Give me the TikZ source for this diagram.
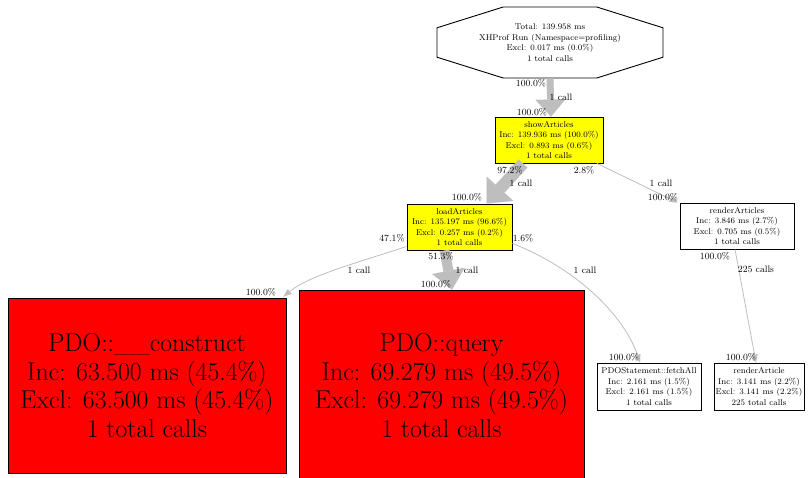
\documentclass[tikz,border=0pt]{standalone}
\usepackage{fontspec}
\usetikzlibrary{arrows.meta}
\definecolor{edgegray}{RGB}{190,190,190}
\definecolor{fnyellow}{RGB}{255,255,0}
\definecolor{fnred}{RGB}{255,0,0}
\begin{document}
\begin{tikzpicture}[x=1pt,y=-1pt,
  fnbox/.style={draw=black,line width=0.9pt,inner sep=0pt,align=center,font=\rmfamily\fontsize{8.4}{10.6}\selectfont},
  bigbox/.style={draw=black,line width=0.9pt,fill=fnred,inner sep=0pt,align=center,font=\rmfamily\fontsize{25.8}{28.7}\selectfont},
  elabel/.style={inner sep=0pt,font=\rmfamily\fontsize{9.4}{11}\selectfont},
  thickedge/.style={draw=edgegray,line width=#1},
  thinedge/.style={draw=edgegray,line width=0.8pt,-{Triangle[width=6pt,length=8pt,line width=0.1pt]}},
]
\useasboundingbox (0,0) rectangle (808,477);
\fill[white] (0,0) rectangle (808,477);

% root octagon
\draw[black,line width=0.9pt] (663,27.8) -- (663,57.2) -- (596.8,78) -- (503.2,78) -- (437,57.2) -- (437,27.8) -- (503.2,7) -- (596.8,7) -- cycle;
\node[fnbox,draw=none,minimum width=226pt,minimum height=71pt] (oct) at (550,42.5)
  {Total: 139.958 ms\\XHProf Run (Namespace=profiling)\\Excl: 0.017 ms (0.0\%)\\1 total calls};

% function nodes
\node[fnbox,fill=fnyellow,minimum width=108pt,minimum height=46pt] (show) at (549,140)
  {showArticles\\Inc: 139.936 ms (100.0\%)\\Excl: 0.893 ms (0.6\%)\\1 total calls};
\node[fnbox,fill=fnyellow,minimum width=105pt,minimum height=46pt] (load) at (459.5,227)
  {loadArticles\\Inc: 135.197 ms (96.6\%)\\Excl: 0.257 ms (0.2\%)\\1 total calls};
\node[fnbox,fill=white,minimum width=114pt,minimum height=46pt] (ra) at (737,226)
  {renderArticles\\Inc: 3.846 ms (2.7\%)\\Excl: 0.705 ms (0.5\%)\\1 total calls};
\node[fnbox,fill=white,minimum width=104pt,minimum height=47pt] (fa) at (649,386.5)
  {PDOStatement::fetchAll\\Inc: 2.161 ms (1.5\%)\\Excl: 2.161 ms (1.5\%)\\1 total calls};
\node[fnbox,fill=white,minimum width=90pt,minimum height=47pt] (rA) at (759,386.5)
  {renderArticle\\Inc: 3.141 ms (2.2\%)\\Excl: 3.141 ms (2.2\%)\\225 total calls};
\node[bigbox,minimum width=278pt,minimum height=175pt] (con) at (147,385.5)
  {PDO::\_\_construct\\Inc: 63.500 ms (45.4\%)\\Excl: 63.500 ms (45.4\%)\\1 total calls};
\node[bigbox,minimum width=285pt,minimum height=191pt] (qry) at (441.5,385.5)
  {PDO::query\\Inc: 69.279 ms (49.5\%)\\Excl: 69.279 ms (49.5\%)\\1 total calls};

% thick edges
\draw[thickedge=7pt,-{Triangle[width=30pt,length=17pt,line width=0.1pt]}] (oct.south) -- ([xshift=2pt]show.north);
\draw[thickedge=12pt,-{Triangle[width=36pt,length=20pt,line width=0.1pt]}] ([xshift=-26pt]show.south) -- ([xshift=27pt]load.north);
\draw[thickedge=10pt,-{Triangle[width=33pt,length=19pt,line width=0.1pt]}] ([xshift=-15pt]load.south) -- ([xshift=10.5pt]qry.north);

% thin edges
\draw[thinedge] ([xshift=48pt]show.south) -- ([xshift=-2pt]ra.north west);
\draw[thinedge] ([yshift=4pt]load.south west) .. controls (360,262) and (310,275) .. ([xshift=-3pt,yshift=1pt]con.north east);
\draw[thinedge] ([yshift=7pt]load.south east) .. controls (580,270) and (625,318) .. ([xshift=-9pt]fa.north);
\draw[thinedge] ([xshift=-2pt]ra.south) -- ([xshift=-3pt]rA.north);

% edge labels
\node[elabel] (l1t) at (531,83) {100.0\%};
\node[elabel] (l1m) at (561,97) {1 call};
\node[elabel] (l1h) at (532,112) {100.0\%};

\node[elabel] (l2t) at (510,170) {97.2\%};
\node[elabel] (l2m) at (521,183) {1 call};
\node[elabel] (l2h) at (467,197) {100.0\%};

\node[elabel] (l3t) at (584,170) {2.8\%};
\node[elabel] (l3m) at (661,183) {1 call};
\node[elabel] (l3h) at (663,197) {100.0\%};

\node[elabel] (l4t) at (392,238) {47.1\%};
\node[elabel] (l4m) at (359,270) {1 call};
\node[elabel] (l4h) at (261,292) {100.0\%};

\node[elabel] (l5t) at (441,256) {51.3\%};
\node[elabel] (l5m) at (467,270) {1 call};
\node[elabel] (l5h) at (436,284) {100.0\%};

\node[elabel] (l6t) at (523,238) {1.6\%};
\node[elabel] (l6m) at (585,270) {1 call};
\node[elabel] (l6h) at (624,357) {100.0\%};

\node[elabel] (l7t) at (715,256) {100.0\%};
\node[elabel] (l7m) at (756,269) {225 calls};
\node[elabel] (l7h) at (741,357) {100.0\%};
\end{tikzpicture}
\end{document}
